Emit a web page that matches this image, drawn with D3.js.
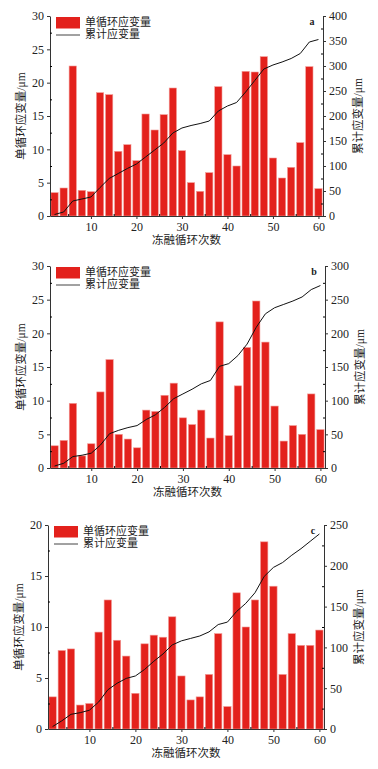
<!DOCTYPE html>
<html>
<head>
<meta charset="utf-8">
<script src="https://cdn.jsdelivr.net/npm/d3@7"></script>
<style>
  body { margin: 0; background: #fff; }
  text { font-family: "Liberation Serif", "Noto Sans CJK SC", serif; fill: #222; }
</style>
</head>
<body>
<svg id="chart" width="378" height="769"></svg>
<script>
// freeze-thaw cycle numbers
const cycles = [2, 4, 6, 8, 10, 12, 14, 16, 18, 20, 22, 24, 26, 28, 30,
  32, 34, 36, 38, 40, 42, 44, 46, 48, 50, 52, 54, 56, 58, 60];

// panel a
const barsA = [3.5, 4.2, 22.5, 3.85, 3.65, 18.5, 18.2, 9.7, 10.7, 8.3, 15.3, 12.9, 15.2, 19.2, 9.8,
  5.0, 3.7, 6.5, 19.4, 9.2, 7.5, 21.7, 21.6, 23.9, 8.7, 5.7, 7.3, 11.0, 22.4, 4.1];
const cumA = [3, 8, 30, 34, 38, 57, 75, 85, 95, 104, 118, 132, 146, 166, 176,
  181, 185, 190, 210, 220, 227, 248, 271, 294, 302, 308, 315, 325, 348, 353];

// panel b
const barsB = [3.3, 4.1, 9.6, 1.8, 3.6, 11.3, 16.1, 5.0, 4.3, 3.0, 8.6, 8.4, 10.8, 12.6, 7.45,
  6.45, 8.6, 4.45, 21.7, 4.8, 12.2, 17.9, 24.8, 18.7, 9.2, 4.0, 6.3, 5.0, 11.0, 5.7];
const cumB = [3, 7, 17, 19, 22, 34, 51, 56, 60, 63, 72, 79, 90, 103, 110,
  117, 125, 130, 151, 155, 167, 184, 209, 229, 238, 243, 248, 254, 265, 271];

// panel c
const barsC = [3.15, 7.7, 7.85, 2.35, 2.5, 9.5, 12.65, 8.7, 7.15, 3.5, 8.35, 9.2, 9.0, 11.0, 5.2,
  2.85, 3.15, 5.35, 9.35, 2.2, 13.35, 10.0, 12.65, 18.35, 14.0, 5.35, 9.35, 8.2, 8.2, 9.7];
const cumC = [3, 10, 18, 20, 23, 33, 48, 56, 62, 65, 73, 83, 92, 103, 108,
  111, 114, 119, 128, 131, 144, 154, 167, 187, 198, 204, 213, 221, 230, 239];

const xTicks = [10, 20, 30, 40, 50, 60];
const leftTitle = "单循环应变量/μm";
const rightTitle = "累计应变量/μm";
const xTitle = "冻融循环次数";
const legendBar = "单循环应变量";
const legendLine = "累计应变量";

const svg = d3.select("#chart");

const panels = [
  { tag: "a", bars: barsA, cum: cumA, yMax: 30, yStep: 5, y2Max: 400, y2Step: 50,
    left: 50, right: 323, top: 16, bottom: 216 },
  { tag: "b", bars: barsB, cum: cumB, yMax: 30, yStep: 5, y2Max: 300, y2Step: 50,
    left: 50, right: 325, top: 266, bottom: 468 },
  { tag: "c", bars: barsC, cum: cumC, yMax: 20, yStep: 5, y2Max: 250, y2Step: 50,
    left: 48, right: 324, top: 525, bottom: 729 }
];

panels.forEach((p) => {
  const g = svg.append("g");
  const x = d3.scaleLinear().domain([1, 61]).range([p.left, p.right]);
  const y = d3.scaleLinear().domain([0, p.yMax]).range([p.bottom, p.top]);
  const y2 = d3.scaleLinear().domain([0, p.y2Max]).range([p.bottom, p.top]);
  const barW = (x(3) - x(1)) * 0.8;

  // bars
  g.selectAll(".bar")
    .data(p.bars)
    .enter()
    .append("rect")
    .attr("x", (d, i) => x(cycles[i]) - barW / 2)
    .attr("y", (d) => y(d))
    .attr("width", barW)
    .attr("height", (d) => p.bottom - y(d))
    .attr("fill", "#e3211c")
    .attr("stroke", "#f29a96")
    .attr("stroke-width", 0.6);

  // cumulative line
  const line = d3.line()
    .x((d, i) => x(cycles[i]))
    .y((d) => y2(d));
  g.append("path")
    .datum(p.cum)
    .attr("d", line)
    .attr("fill", "none")
    .attr("stroke", "#111")
    .attr("stroke-width", 1);

  const major = d3.range(0, p.yMax + 0.01, p.yStep);
  const minor = d3.range(p.yStep / 2, p.yMax, p.yStep);
  const major2 = d3.range(0, p.y2Max + 0.01, p.y2Step);
  const minor2 = d3.range(p.y2Step / 2, p.y2Max, p.y2Step);

  // left axis
  const la = g.append("g").attr("transform", `translate(${p.left},0)`)
    .call(d3.axisLeft(y).tickValues(major).tickSize(3).tickSizeOuter(0).tickPadding(3));
  g.append("g").attr("transform", `translate(${p.left},0)`)
    .call(d3.axisLeft(y).tickValues(minor).tickSize(-2).tickSizeOuter(0).tickFormat(""))
    .select(".domain").remove();

  // right axis
  const ra = g.append("g").attr("transform", `translate(${p.right},0)`)
    .call(d3.axisRight(y2).tickValues(major2).tickSize(3).tickSizeOuter(0).tickPadding(3));
  g.append("g").attr("transform", `translate(${p.right},0)`)
    .call(d3.axisRight(y2).tickValues(minor2).tickSize(-2).tickSizeOuter(0).tickFormat(""))
    .select(".domain").remove();

  // bottom axis
  const ba = g.append("g").attr("transform", `translate(0,${p.bottom})`)
    .call(d3.axisBottom(x).tickValues(xTicks).tickSize(3).tickSizeOuter(0).tickPadding(3));
  g.append("g").attr("transform", `translate(0,${p.bottom})`)
    .call(d3.axisBottom(x).tickValues([5, 15, 25, 35, 45, 55]).tickSize(-2).tickSizeOuter(0).tickFormat(""))
    .select(".domain").remove();

  [la, ra, ba].forEach((a) => {
    a.selectAll("text").style("font-size", "12px").attr("fill", "#222");
    a.selectAll("line, path").attr("stroke", "#333");
  });

  // axis titles
  const midY = (p.top + p.bottom) / 2;
  g.append("text")
    .attr("transform", `translate(${p.left - 28},${midY}) rotate(-90)`)
    .attr("text-anchor", "middle")
    .attr("dominant-baseline", "middle")
    .style("font-size", "11.5px")
    .text(leftTitle);
  g.append("text")
    .attr("transform", `translate(${p.right + 36},${midY}) rotate(-90)`)
    .attr("text-anchor", "middle")
    .attr("dominant-baseline", "middle")
    .style("font-size", "11.5px")
    .text(rightTitle);
  g.append("text")
    .attr("x", (p.left + p.right) / 2)
    .attr("y", p.bottom + 25)
    .attr("text-anchor", "middle")
    .attr("dominant-baseline", "middle")
    .style("font-size", "11.5px")
    .text(xTitle);

  // panel tag
  g.append("text")
    .attr("x", p.right - 11)
    .attr("y", p.top + 7)
    .attr("text-anchor", "middle")
    .attr("dominant-baseline", "middle")
    .style("font-size", "10px")
    .style("font-weight", "bold")
    .text(p.tag);

  // legend
  const lx = p.left + 6;
  g.append("rect")
    .attr("x", lx).attr("y", p.top + 1)
    .attr("width", 24).attr("height", 11.5)
    .attr("fill", "#e3211c");
  g.append("text")
    .attr("x", lx + 29).attr("y", p.top + 7)
    .attr("dominant-baseline", "middle")
    .style("font-size", "11px")
    .text(legendBar);
  g.append("line")
    .attr("x1", lx).attr("x2", lx + 24)
    .attr("y1", p.top + 19).attr("y2", p.top + 19)
    .attr("stroke", "#444").attr("stroke-width", 1);
  g.append("text")
    .attr("x", lx + 29).attr("y", p.top + 19)
    .attr("dominant-baseline", "middle")
    .style("font-size", "11px")
    .text(legendLine);
});
</script>
</body>
</html>
